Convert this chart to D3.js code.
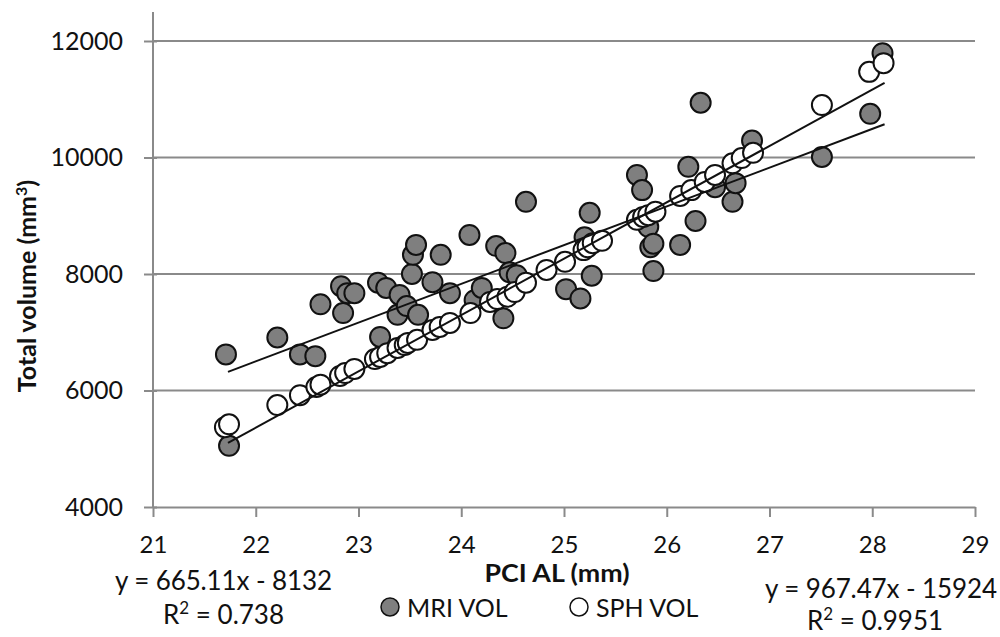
<!DOCTYPE html>
<html>
<head>
<meta charset="utf-8">
<script src="https://cdn.jsdelivr.net/npm/d3@7.9.0/dist/d3.min.js"></script>
<style>
  body { margin: 0; background: #fff; }
  svg { font-family: Lato, "Open Sans", sans-serif; }
</style>
</head>
<body>
<svg id="chart" width="1000" height="637"></svg>
<script>
// MRI volume points (x = PCI AL, y = volume)
const mriAL = [21.71, 21.74, 22.21, 22.43, 22.58, 22.63, 22.83, 22.85, 22.89, 22.96,
  23.19, 23.21, 23.27, 23.38, 23.40, 23.47, 23.52, 23.53, 23.56, 23.58,
  23.72, 23.80, 23.89, 24.08, 24.13, 24.20, 24.34, 24.41, 24.43, 24.47,
  24.54, 24.63, 25.02, 25.16, 25.20, 25.25, 25.27, 25.71, 25.76, 25.82,
  25.84, 25.87, 25.87, 26.13, 26.21, 26.28, 26.33, 26.47, 26.64, 26.67,
  26.83, 27.51, 27.98, 28.10];
const mriVol = [6620, 5050, 6910, 6620, 6590, 7480, 7790, 7330, 7670, 7670,
  7850, 6920, 7760, 7300, 7640, 7450, 8000, 8330, 8500, 7300,
  7860, 8330, 7670, 8670, 7550, 7760, 8480, 7240, 8360, 8030,
  7980, 9240, 7740, 7580, 8630, 9050, 7970, 9700, 9440, 8810,
  8460, 8520, 8050, 8500, 9840, 8910, 10940, 9490, 9240, 9560,
  10290, 10010, 10750, 11790];

// spherical volume points
const sphAL = [21.70, 21.74, 22.21, 22.43, 22.59, 22.63, 22.82, 22.87, 22.96, 23.16,
  23.21, 23.28, 23.38, 23.45, 23.48, 23.57, 23.72, 23.79, 23.89, 24.09,
  24.28, 24.35, 24.45, 24.52, 24.63, 24.83, 25.01, 25.19, 25.23, 25.28,
  25.37, 25.71, 25.77, 25.82, 25.89, 26.13, 26.24, 26.37, 26.47, 26.64,
  26.73, 26.84, 27.51, 27.97, 28.11];
const sphVol = [5370, 5420, 5750, 5920, 6060, 6100, 6250, 6300, 6370, 6540,
  6575, 6640, 6730, 6780, 6816, 6870, 7040, 7090, 7160, 7330,
  7520, 7570, 7610, 7690, 7850, 8070, 8210, 8410, 8460, 8530,
  8570, 8930, 8980, 9010, 9070, 9340, 9440, 9580, 9700, 9900,
  9990, 10080, 10900, 11470, 11620];

const xTicks = [21, 22, 23, 24, 25, 26, 27, 28, 29];
const yTicks = [4000, 6000, 8000, 10000, 12000];

// linear trendlines [slope, intercept]
const mriFit = [665.11, -8132];
const sphFit = [967.47, -15924];
const fitRange = [21.73, 28.12];

const svg = d3.select("#chart");
const grey = "#8a8a8a";
const ink = "#111";

const x = d3.scaleLinear().domain([21, 29]).range([153, 975]);
const y = d3.scaleLinear().domain([4000, 12000]).range([507, 41]);

// gridlines
svg.append("g")
  .selectAll("line")
  .data(yTicks.slice(1))
  .join("line")
  .attr("x1", x(21)).attr("x2", x(29))
  .attr("y1", d => y(d)).attr("y2", d => y(d))
  .attr("stroke", grey).attr("stroke-width", 2);

// y axis
const yAxis = svg.append("g")
  .attr("transform", `translate(${x(21)},0)`)
  .call(d3.axisLeft(y).tickValues(yTicks).tickFormat(d3.format("d")).tickSize(9).tickPadding(21));
yAxis.select(".domain").remove();
yAxis.selectAll(".tick line").attr("stroke", grey).attr("stroke-width", 2).attr("x2", 4).attr("x1", -9);
yAxis.selectAll(".tick text").attr("font-size", 25).attr("fill", ink).attr("font-family", "Lato");
yAxis.append("line")
  .attr("x1", 0).attr("x2", 0).attr("y1", 12).attr("y2", y(4000))
  .attr("stroke", grey).attr("stroke-width", 2);

// x axis
const xAxis = svg.append("g")
  .attr("transform", `translate(0,${y(4000)})`)
  .call(d3.axisBottom(x).tickValues(xTicks).tickSize(10).tickPadding(19).tickSizeOuter(0));
xAxis.select(".domain").attr("stroke", grey).attr("stroke-width", 2);
xAxis.selectAll(".tick line").attr("stroke", grey).attr("stroke-width", 2);
xAxis.selectAll(".tick text").attr("font-size", 24).attr("fill", ink).attr("font-family", "Lato");

// points
function drawPoints(xs, ys, fill) {
  svg.append("g")
    .selectAll("circle")
    .data(xs.map((d, i) => [d, ys[i]]))
    .join("circle")
    .attr("cx", d => x(d[0]))
    .attr("cy", d => y(d[1]))
    .attr("r", 10)
    .attr("fill", fill)
    .attr("stroke", ink)
    .attr("stroke-width", 2);
}
drawPoints(mriAL, mriVol, "#7f7f7f");
drawPoints(sphAL, sphVol, "#fff");

// trendlines
const line = d3.line().x(d => x(d[0])).y(d => y(d[1]));
[mriFit, sphFit].forEach(f => {
  svg.append("path")
    .attr("d", line(fitRange.map(v => [v, f[0] * v + f[1]])))
    .attr("fill", "none").attr("stroke", ink).attr("stroke-width", 2);
});

// axis titles
svg.append("text")
  .attr("x", 557).attr("y", 582)
  .attr("text-anchor", "middle")
  .attr("font-size", 25).attr("font-weight", "bold").attr("fill", ink)
  .attr("textLength", 145).attr("lengthAdjust", "spacingAndGlyphs")
  .text("PCI AL (mm)");

svg.append("text")
  .attr("transform", "translate(36,286) rotate(-90)")
  .attr("text-anchor", "middle")
  .attr("font-size", 25).attr("font-weight", "bold").attr("fill", ink)
  .html("Total volume (mm<tspan dy='-9' font-size='16'>3</tspan><tspan dy='9'>)</tspan>");

// equations
const eq = svg.append("g").attr("font-size", 26).attr("fill", ink);
eq.append("text").attr("x", 115).attr("y", 590)
  .attr("textLength", 217).attr("lengthAdjust", "spacing")
  .text("y = 665.11x - 8132");
eq.append("text").attr("x", 163).attr("y", 624)
  .html("R<tspan dy='-10' font-size='17'>2</tspan><tspan dy='10'> = 0.738</tspan>");
eq.append("text").attr("x", 765).attr("y", 598)
  .attr("textLength", 232).attr("lengthAdjust", "spacing")
  .text("y = 967.47x - 15924");
eq.append("text").attr("x", 807).attr("y", 630)
  .html("R<tspan dy='-10' font-size='17'>2</tspan><tspan dy='10'> = 0.9951</tspan>");

// legend
const legendItems = [["MRI VOL", "#7f7f7f", 390], ["SPH VOL", "#fff", 579]];
const legend = svg.append("g");
legendItems.forEach(([label, fill, lx]) => {
  legend.append("circle").attr("cx", lx).attr("cy", 607).attr("r", 9)
    .attr("fill", fill).attr("stroke", ink).attr("stroke-width", 1.5);
  legend.append("text").attr("x", lx + 17).attr("y", 617)
    .attr("font-size", 25).attr("fill", ink).text(label);
});
</script>
</body>
</html>
